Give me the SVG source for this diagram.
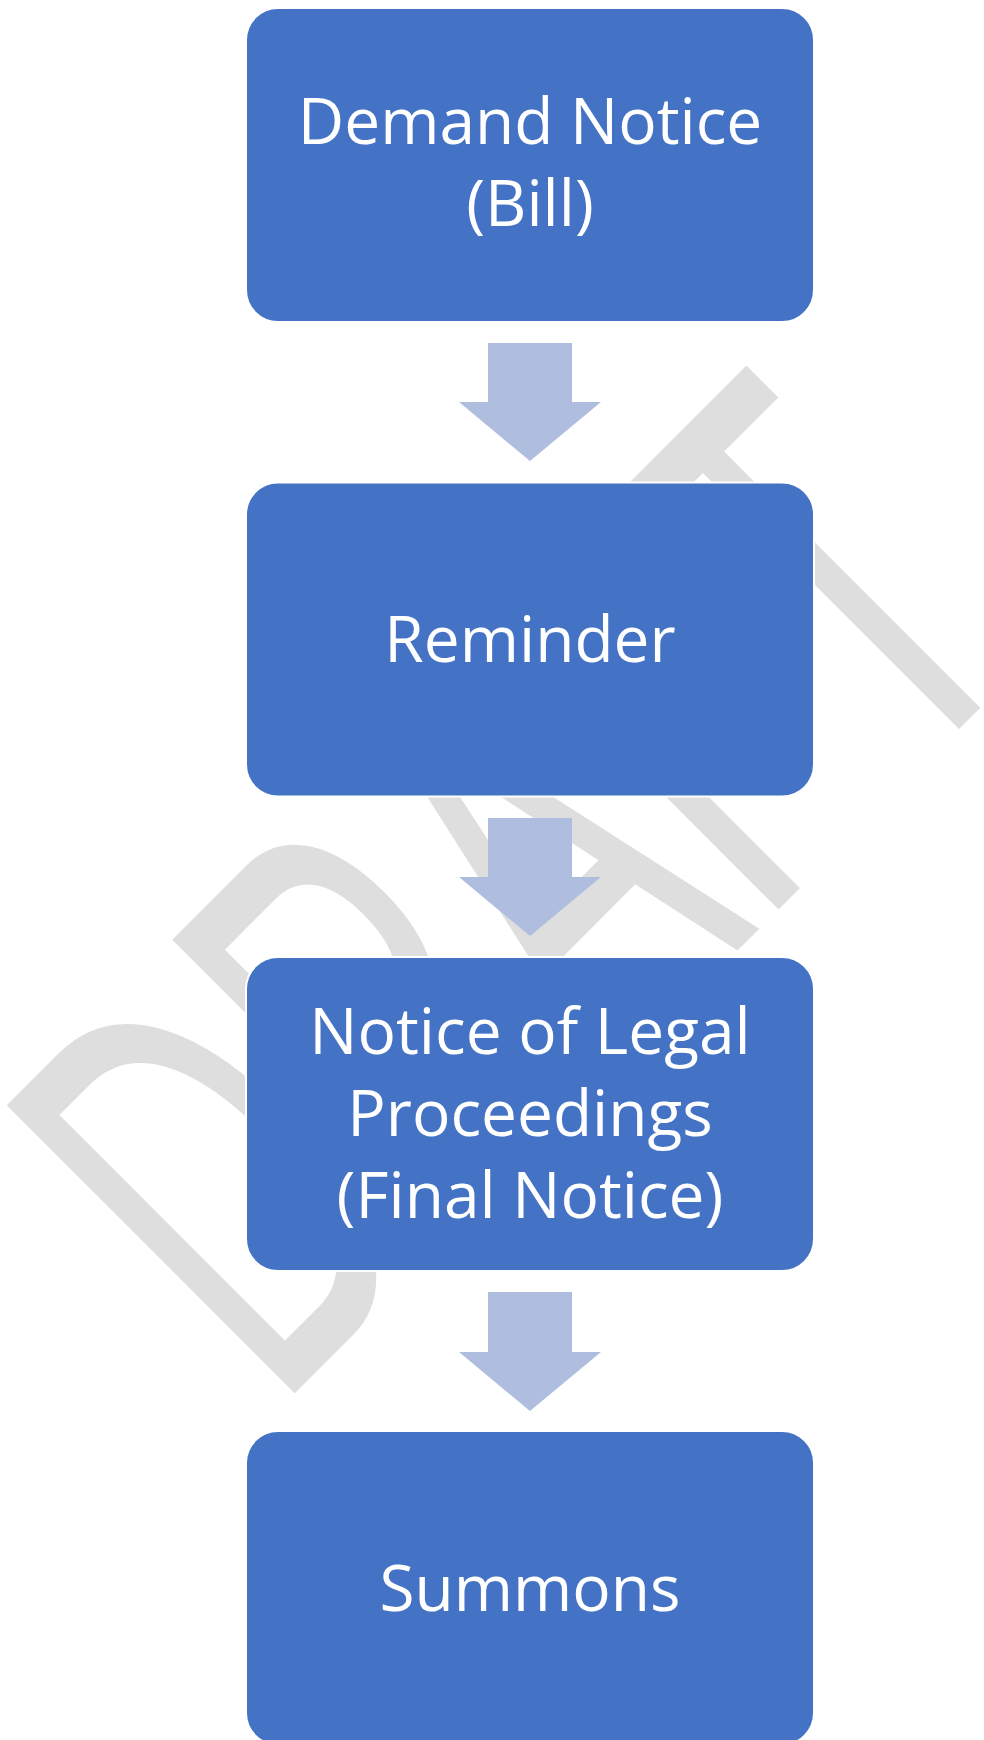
<svg xmlns="http://www.w3.org/2000/svg" width="984" height="1740" viewBox="0 0 984 1740">
  <style>
    .box { fill: #4472C4; stroke: #FFFFFF; stroke-width: 2; }
    .lbl { fill: #FFFFFF; font-family: "Open Sans", "Liberation Sans", sans-serif; font-size: 64px; text-anchor: middle; }
    .arrow { fill: #AFBDDF; }
    .wm { fill: #DEDEDE; font-family: "Liberation Sans", Arial, sans-serif; font-size: 592px; }
  </style>
  <rect x="0" y="0" width="984" height="1740" fill="#FFFFFF"/>
  <g id="watermark">
    <text class="wm" x="0" y="0" transform="translate(276,1412) rotate(-45)" textLength="1080" lengthAdjust="spacingAndGlyphs">DRAFT</text>
  </g>
  <g id="connectors">
    <polygon class="arrow" points="488,343 572,343 572,402 601,402 530,461 459,402 488,402"/>
    <polygon class="arrow" points="488,818 572,818 572,877 601,877 530,936 459,877 488,877"/>
    <polygon class="arrow" points="488,1292 572,1292 572,1352 601,1352 530,1411 459,1352 488,1352"/>
  </g>
  <g id="node-demand">
    <rect class="box" x="246" y="8" width="568" height="314" rx="32" ry="32"/>
    <text class="lbl" x="530" y="144">Demand Notice</text>
    <text class="lbl" x="530" y="226">(Bill)</text>
  </g>
  <g id="node-reminder">
    <rect class="box" x="246" y="482.5" width="568" height="314" rx="32" ry="32"/>
    <text class="lbl" x="530" y="662">Reminder</text>
  </g>
  <g id="node-legal">
    <rect class="box" x="246" y="957" width="568" height="314" rx="32" ry="32"/>
    <text class="lbl" x="530" y="1054">Notice of Legal</text>
    <text class="lbl" x="530" y="1136">Proceedings</text>
    <text class="lbl" x="530" y="1218">(Final Notice)</text>
  </g>
  <g id="node-summons">
    <rect class="box" x="246" y="1431" width="568" height="314" rx="32" ry="32"/>
    <text class="lbl" x="530" y="1611">Summons</text>
  </g>
</svg>
